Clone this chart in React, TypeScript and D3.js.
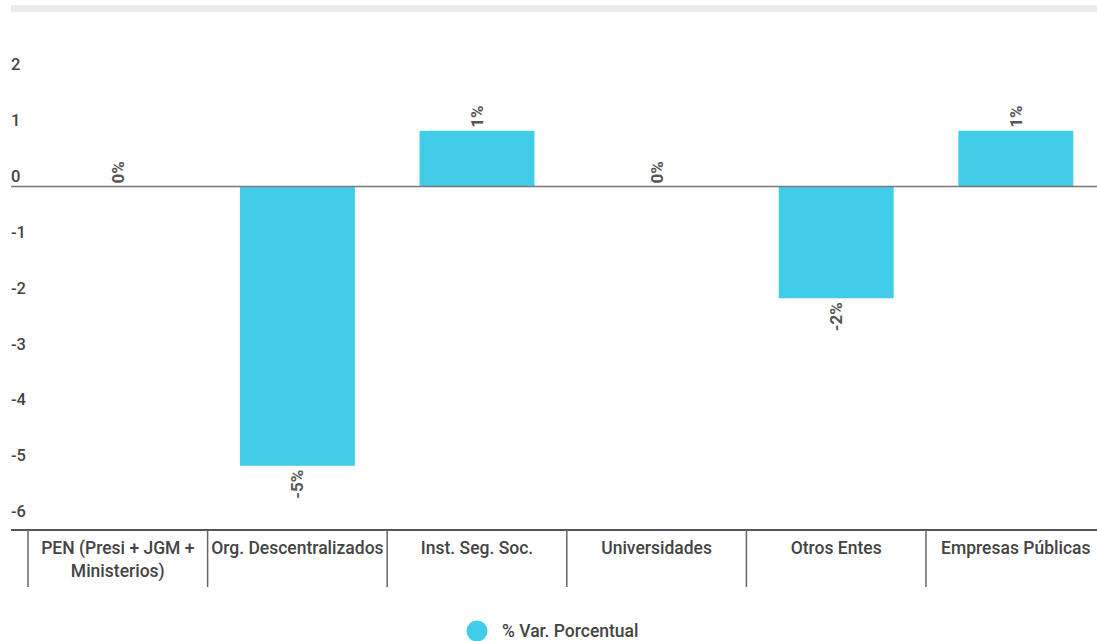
import React from "react";
import * as d3 from "d3";

const categories = [
  ["PEN (Presi + JGM +", "Ministerios)"],
  ["Org. Descentralizados"],
  ["Inst. Seg. Soc."],
  ["Universidades"],
  ["Otros Entes"],
  ["Empresas Públicas"],
];
const categoryKeys = ["PEN", "Org", "Inst", "Univ", "Otros", "Empresas"];
const values = [0, -5, 1, 0, -2, 1];
const valueLabels = ["0%", "-5%", "1%", "0%", "-2%", "1%"];
const yTicks = [2, 1, 0, -1, -2, -3, -4, -5, -6];
const seriesName = "% Var. Porcentual";

const W = 1097;
const H = 641;
const BAR_COLOR = "#41CDEA";
const FONT = "Roboto, 'Noto Sans', sans-serif";

export default function App() {
  const y = d3.scaleLinear().domain([-6.15, 2.9]).range([530, 24.7]);
  const x = d3
    .scaleBand<string>()
    .domain(categoryKeys)
    .range([28, 28 + 6 * 179.6]);
  const step = x.step();
  const bandStart = (i: number) => x(categoryKeys[i]) as number;
  const bandCenter = (i: number) => bandStart(i) + step / 2;
  const barW = step * 0.64;

  return (
    <svg
      width={W}
      height={H}
      style={{ position: "absolute", left: 0, top: 0, background: "#fff" }}
      fontFamily={FONT}
    >
      <rect x={11} y={5} width={W - 11} height={7} fill="#ebebeb" />

      {yTicks.map((t) => (
        <text
          key={t}
          x={11}
          y={y(t) - 4.5}
          fontSize={16.5}
          fontWeight={500}
          fill="#444"
        >
          {t}
        </text>
      ))}

      {values.map((v, i) => {
        const cx = bandCenter(i);
        const top = Math.min(y(v), y(0));
        const h = Math.abs(y(v) - y(0));
        return (
          <g key={categoryKeys[i]}>
            {h > 0 && (
              <rect x={cx - barW / 2} y={top} width={barW} height={h} fill={BAR_COLOR} />
            )}
          </g>
        );
      })}

      <line x1={11} x2={W} y1={y(0)} y2={y(0)} stroke="#777" strokeWidth={1.5} />

      {values.map((v, i) => {
        const cx = bandCenter(i);
        const neg = v < 0;
        const ay = neg ? y(v) + 4 : y(v) - 3;
        return (
          <text
            key={"l" + i}
            transform={`translate(${cx},${ay}) rotate(-90)`}
            textAnchor={neg ? "end" : "start"}
            dy="0.35em"
            fontSize={17}
            fontWeight={700}
            fill="#555"
          >
            {valueLabels[i]}
          </text>
        );
      })}

      <line x1={11} x2={W} y1={530} y2={530} stroke="#555" strokeWidth={2} />
      {categoryKeys.map((k, i) => (
        <line
          key={"s" + k}
          x1={bandStart(i)}
          x2={bandStart(i)}
          y1={530}
          y2={587}
          stroke="#666"
          strokeWidth={1.5}
        />
      ))}
      {categories.map((lines, i) => (
        <text
          key={"c" + i}
          x={bandCenter(i)}
          y={554}
          textAnchor="middle"
          fontSize={17.5}
          fontWeight={500}
          fill="#444"
        >
          {lines.map((ln, j) => (
            <tspan key={j} x={bandCenter(i)} dy={j === 0 ? 0 : 23}>
              {ln}
            </tspan>
          ))}
        </text>
      ))}

      <circle cx={477} cy={631} r={10.5} fill={BAR_COLOR} />
      <text x={502} y={637} fontSize={17.5} fontWeight={500} fill="#444">
        {seriesName}
      </text>
    </svg>
  );
}
